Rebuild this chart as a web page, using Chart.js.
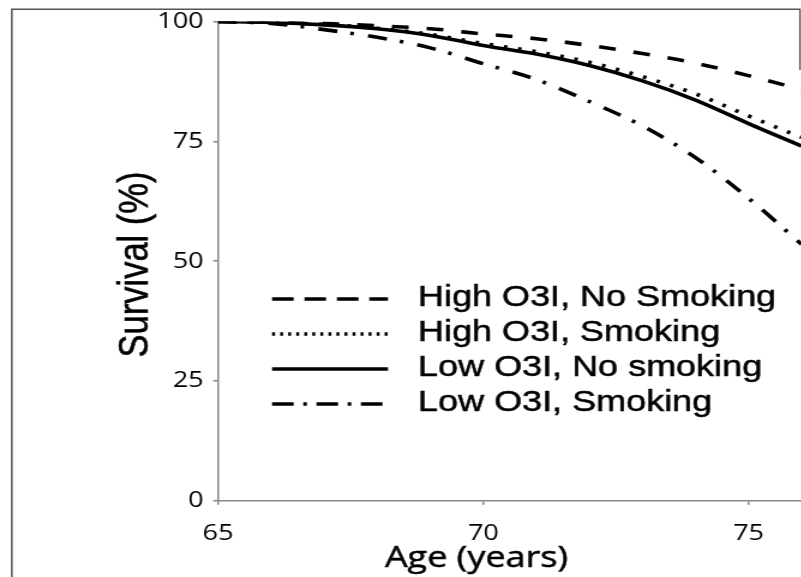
<!DOCTYPE html>
<html>
<head>
<meta charset="utf-8">
<script src="https://cdn.jsdelivr.net/npm/chart.js@4.4.1/dist/chart.umd.min.js"></script>
<style>
    html, body { margin: 0; padding: 0; background: #fff; overflow: hidden; }
    #wrap { width: 801px; height: 577px; overflow: hidden; }
    /* the source figure is stretched sideways, so the canvas is too */
    #chart { display: block; transform: scaleX(1.2); transform-origin: 0 0; }
</style>
</head>
<body>
<div id="wrap">
    <canvas id="chart" width="668" height="577" style="width:668px;height:577px"></canvas>
</div>
<script>
const ages = [65, 66, 67, 68, 69, 70, 71, 72, 73, 74, 75, 76];
const highO3INoSmoking = [100, 99.9, 99.6, 99.1, 98.5, 97.4, 96.4, 95.0, 93.3, 91.3, 88.7, 85.8];
const highO3ISmoking   = [100, 99.8, 99.4, 98.6, 97.3, 95.4, 93.7, 91.5, 88.5, 84.9, 80.3, 75.8];
const lowO3INoSmoking  = [100, 99.8, 99.3, 98.5, 97.1, 95.0, 93.2, 90.8, 87.6, 83.6, 78.7, 74.0];
const lowO3ISmoking    = [100, 99.6, 98.3, 96.7, 94.5, 91.2, 87.9, 83.3, 78.2, 71.6, 63.1, 53.5];
const xTicks = [65, 70, 75];
const yTicks = [0, 25, 50, 75, 100];

const seriesNames = ['High O3I, No Smoking', 'High O3I, Smoking', 'Low O3I, No smoking', 'Low O3I, Smoking'];
const seriesValues = [highO3INoSmoking, highO3ISmoking, lowO3INoSmoking, lowO3ISmoking];
const seriesDash = [[14, 15], [3, 9], [], [16, 11, 3, 12]];
const legendDash = [[18, 9], [2.5, 4.2], [], [18, 8, 3, 8]];

function toPoints(values) {
    return values.map((v, i) => ({ x: ages[i], y: v }));
}

function inkText(ctx, text, x, y) {
    ctx.fillText(text, x, y);
    ctx.strokeText(text, x, y);
}

// frame, axis titles and the legend inside the plot
const decorations = {
    id: 'decorations',
    afterDraw(chart) {
        const ctx = chart.ctx;
        ctx.save();

        ctx.strokeStyle = '#555';
        ctx.lineWidth = 1.5;
        ctx.beginPath();
        ctx.moveTo(9.8, 577);
        ctx.lineTo(9.8, 9.3);
        ctx.lineTo(666.7, 9.3);
        ctx.lineTo(666.7, 70);
        ctx.stroke();

        ctx.fillStyle = '#000';
        ctx.strokeStyle = '#000';
        ctx.lineWidth = 0.5;
        ctx.font = '34.5px "Liberation Sans", Arial, sans-serif';
        ctx.textAlign = 'center';
        ctx.textBaseline = 'alphabetic';
        ctx.save();
        ctx.translate(123, 264.5);
        ctx.rotate(-Math.PI / 2);
        inkText(ctx, 'Survival (%)', 0, 0);
        ctx.restore();

        ctx.font = '30px "Open Sans", sans-serif';
        inkText(ctx, 'Age (years)', 397, 567);

        const rows = [298, 333, 368, 403];
        ctx.font = '30px "Liberation Sans", Arial, sans-serif';
        ctx.textAlign = 'left';
        ctx.textBaseline = 'middle';
        chart.data.datasets.forEach((ds, i) => {
            ctx.lineWidth = ds.borderWidth;
            ctx.setLineDash(legendDash[i]);
            ctx.beginPath();
            ctx.moveTo(226.7, rows[i] + 1);
            ctx.lineTo(323.3, rows[i] + 1);
            ctx.stroke();
            ctx.setLineDash([]);
            ctx.lineWidth = 0.5;
            inkText(ctx, ds.label, 348.3, rows[i]);
        });
        ctx.restore();
    }
};

const tickFont = { family: '"Open Sans", sans-serif', size: 22.5 };

new Chart(document.getElementById('chart'), {
    type: 'line',
    data: {
        datasets: seriesNames.map((name, i) => ({
            label: name,
            data: toPoints(seriesValues[i]),
            borderColor: '#000',
            borderWidth: 3.6,
            borderDash: seriesDash[i],
            pointRadius: 0,
            cubicInterpolationMode: 'monotone',
            fill: false
        }))
    },
    options: {
        responsive: false,
        animation: false,
        layout: { padding: { top: 20.7, right: 0, left: 0, bottom: 0 } },
        plugins: {
            legend: { display: false },
            tooltip: { enabled: false }
        },
        scales: {
            x: {
                type: 'linear',
                min: 65,
                max: 76,
                afterBuildTicks: s => { s.ticks = xTicks.map(v => ({ value: v })); },
                afterFit: s => { s.height = 76.3; },
                ticks: { font: tickFont, color: '#000', padding: 15, maxRotation: 0 },
                grid: { drawOnChartArea: false, tickLength: 4, color: '#888', lineWidth: 1.5 },
                border: { color: '#888', width: 1.5 }
            },
            y: {
                min: 0,
                max: 100,
                afterBuildTicks: s => { s.ticks = yTicks.map(v => ({ value: v })); },
                afterFit: s => { s.width = 181.7; },
                ticks: { font: tickFont, color: '#000', padding: 8 },
                grid: { drawOnChartArea: false, tickLength: 4, color: '#888', lineWidth: 1.5 },
                border: { color: '#888', width: 1.5 }
            }
        }
    },
    plugins: [decorations]
});
</script>
</body>
</html>
